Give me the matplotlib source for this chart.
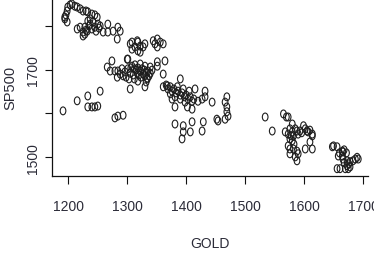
import matplotlib
matplotlib.use("Agg")
import matplotlib.pyplot as plt
from matplotlib.path import Path
from matplotlib.transforms import Affine2D
from matplotlib import font_manager

# ---- data ----
gold = [
    # top-left group
    1194, 1196, 1198, 1199, 1203, 1206, 1211, 1215, 1220, 1225, 1230, 1233, 1240, 1245, 1249, 1194, 1198,
    1215, 1220, 1228, 1225, 1225, 1228, 1232, 1237, 1233, 1242, 1250, 1254, 1267, 1259, 1267, 1276, 1284, 1288, 1283,
    1235, 1240, 1245, 1230, 1247, 1252, 1237,
    # upper middle group
    1305, 1308, 1317, 1318, 1322, 1313, 1308, 1318, 1327, 1330, 1344, 1351, 1347, 1356, 1361, 1351, 1322,
    # middle group around 1700
    1274, 1266, 1271, 1279, 1283, 1288, 1293, 1301, 1308, 1300,
    1301, 1306, 1312, 1315, 1318, 1322, 1325, 1329, 1332, 1335, 1339, 1305, 1310, 1317, 1320, 1323, 1327, 1330,
    1334, 1337, 1313, 1322, 1330, 1339, 1342, 1296, 1291, 1284, 1298, 1303, 1312, 1318, 1332, 1330, 1334,
    1351, 1364, 1361, 1368, 1305, 1351,
    # 1360-1470 band
    1361, 1366, 1369, 1373, 1376, 1379, 1383, 1386, 1390, 1393, 1397, 1400, 1403, 1407, 1410, 1413, 1373, 1381,
    1390, 1398, 1385, 1395, 1405, 1376, 1381, 1402, 1410, 1390, 1415, 1420, 1427, 1432, 1432, 1444,
    1466, 1469, 1469, 1469, 1471, 1466, 1452, 1454, 1410, 1429, 1427, 1407, 1395, 1393, 1381, 1395,
    # lower-left stragglers
    1191, 1215, 1233, 1254, 1233, 1240, 1245, 1250, 1279, 1284, 1293,
    # 1530-1620 group
    1534, 1546, 1565, 1573, 1580, 1576, 1568, 1573, 1580, 1582, 1576, 1588, 1593, 1599, 1602, 1607, 1614, 1614,
    1610, 1614, 1602, 1573, 1576, 1582, 1588, 1590, 1585, 1588, 1576, 1585, 1590, 1596, 1578, 1605, 1610, 1580,
    1583, 1570,
    # 1640-1700 group
    1648, 1656, 1665, 1666, 1658, 1665, 1666, 1673, 1678, 1683, 1687, 1656, 1661, 1670, 1675, 1678, 1673,
    1650, 1668, 1672, 1660, 1668, 1676, 1692, 1690,
]
sp500 = [
    1816, 1825, 1834, 1843, 1848, 1850, 1845, 1843, 1839, 1834, 1834, 1832, 1827, 1825, 1820, 1820, 1809,
    1793, 1797, 1797, 1786, 1777, 1781, 1788, 1804, 1811, 1809, 1804, 1800, 1804, 1786, 1786, 1788, 1797, 1788, 1770,
    1800, 1793, 1797, 1790, 1788, 1795, 1816,
    1759, 1763, 1766, 1763, 1754, 1752, 1747, 1743, 1752, 1759, 1766, 1770, 1759, 1763, 1759, 1752, 1740,
    1720, 1706, 1697, 1697, 1683, 1690, 1686, 1724, 1708, 1724,
    1702, 1704, 1702, 1699, 1704, 1697, 1702, 1699, 1695, 1697, 1692, 1692, 1688, 1692, 1688, 1683, 1690, 1686,
    1681, 1686, 1711, 1713, 1708, 1706, 1699, 1695, 1702, 1697, 1683, 1679, 1679, 1674, 1672, 1661, 1679,
    1708, 1720, 1690, 1663, 1656, 1718,
    1661, 1665, 1656, 1661, 1651, 1656, 1647, 1651, 1642, 1647, 1638, 1642, 1633, 1638, 1628, 1633, 1645, 1638,
    1633, 1626, 1661, 1656, 1651, 1633, 1615, 1615, 1610, 1679, 1656, 1628, 1633, 1638, 1651, 1626,
    1626, 1638, 1615, 1604, 1594, 1587, 1587, 1583, 1581, 1581, 1560, 1558, 1558, 1542, 1576, 1572,
    1606, 1629, 1640, 1651, 1615, 1615, 1615, 1617, 1590, 1594, 1596,
    1592, 1560, 1599, 1592, 1576, 1565, 1558, 1553, 1558, 1549, 1542, 1560, 1560, 1572, 1565, 1558, 1553, 1549,
    1535, 1519, 1519, 1526, 1519, 1519, 1514, 1508, 1501, 1492, 1508, 1565, 1553, 1556, 1549, 1560, 1562, 1538,
    1530, 1592,
    1524, 1524, 1514, 1512, 1503, 1503, 1496, 1492, 1490, 1492, 1496, 1474, 1474, 1474, 1474, 1478, 1481,
    1526, 1517, 1510, 1510, 1488, 1485, 1496, 1500,
]
x_ticks = [1200, 1300, 1400, 1500, 1600, 1700]
x_tick_labels = ["1200", "1300", "1400", "1500", "1600", "1700"]
y_ticks = [1500, 1600, 1700, 1800]
y_tick_labels = ["1500", "", "1700", ""]
x_label = "GOLD"
y_label = "SP500"

# ---- fonts ----
avail = {f.name for f in font_manager.fontManager.ttflist}
narrow = "Liberation Sans Narrow" if "Liberation Sans Narrow" in avail else "Liberation Sans"
txt_col = "#2b2b38"

fig = plt.figure(figsize=(3.74, 2.55), dpi=100)
ax = fig.add_axes([52.3 / 374, 1 - 177.3 / 255, (368.3 - 52.3) / 374, 177.3 / 255])

# slightly tall open ellipse marker (like squashed R pch=1)
circ = Path.unit_circle()
ell = Path(Affine2D().scale(0.72, 1.0).transform(circ.vertices), circ.codes)

ax.scatter(gold, sp500, marker=ell, s=32, facecolors="none",
           edgecolors="#1e1e1e", linewidths=0.8)

ax.set_xlim(1172.8, 1709)
ax.set_ylim(1456.6, 1861.4)

for s in ["top", "right"]:
    ax.spines[s].set_visible(False)
for s in ["left", "bottom"]:
    ax.spines[s].set_linewidth(0.9)
    ax.spines[s].set_color("#111111")

ax.set_xticks(x_ticks)
ax.set_xticklabels(x_tick_labels, fontsize=10, family=[narrow, "DejaVu Sans"], color=txt_col)
ax.set_yticks(y_ticks)
ax.set_yticklabels(y_tick_labels, fontsize=10, family=[narrow, "DejaVu Sans"], color=txt_col,
                   rotation=90, va="center")
ax.tick_params(axis="x", length=6, width=0.8, pad=10, color="#111111")
ax.tick_params(axis="y", length=5, width=0.8, pad=4, color="#111111")

fig.text(10 / 374, 1 - 88 / 255, y_label, rotation=90, ha="center", va="center",
         fontsize=10.5, family=["Liberation Sans", "DejaVu Sans"], color=txt_col)
fig.text(210 / 374, 1 - 244 / 255, x_label, ha="center", va="center",
         fontsize=10, family=[narrow, "DejaVu Sans"], color=txt_col)

fig.savefig("out.png", dpi=100)
